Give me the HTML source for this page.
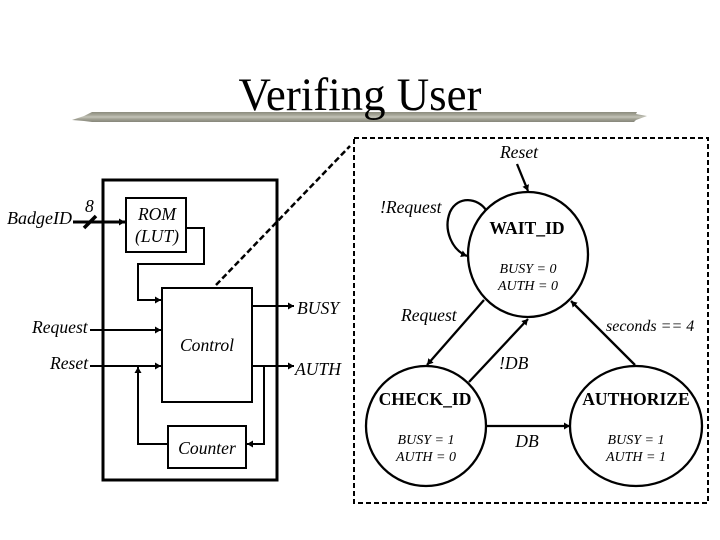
<!DOCTYPE html>
<html><head><meta charset="utf-8"><style>
html,body{margin:0;padding:0;background:#fff;width:720px;height:540px;overflow:hidden}
svg{display:block}
text{font-family:"Liberation Serif",serif;fill:#000}
.i{font-style:italic;font-size:17.6px}
.s{font-style:italic;font-size:14px}
.c{font-style:italic;font-size:16px}
.b{font-weight:bold;font-size:17.6px}
</style></head><body>
<svg width="720" height="540" viewBox="0 0 720 540" xmlns="http://www.w3.org/2000/svg">
<defs>
<marker id="a" markerUnits="userSpaceOnUse" markerWidth="7" markerHeight="8" refX="6" refY="4" orient="auto"><path d="M0 0.5L6 4L0 7.5Z" fill="#000"/></marker>
<linearGradient id="g" x1="0" y1="0" x2="0" y2="1">
<stop offset="0" stop-color="#8b8b7e"/><stop offset=".3" stop-color="#a6a698"/><stop offset=".5" stop-color="#c4c4b8"/><stop offset=".7" stop-color="#a2a294"/><stop offset="1" stop-color="#86867a"/>
</linearGradient>
</defs>
<polygon points="72,120 84,116 92,112 637,112 636,114 647,116 636,120 634,122 92,122 84,121" fill="url(#g)"/>
<text x="360" y="110" text-anchor="middle" font-size="47" textLength="243" lengthAdjust="spacingAndGlyphs">Verifing User</text>

<g fill="none" stroke="#000">
<rect x="103" y="180" width="174" height="300" stroke-width="3"/>
<rect x="126" y="198" width="60" height="54" stroke-width="2"/>
<rect x="162" y="288" width="90" height="114" stroke-width="2"/>
<rect x="168" y="426" width="78" height="42" stroke-width="2"/>
<path d="M73 222H125" stroke-width="3" marker-end="url(#a)"/>
<path d="M84 228L96 216" stroke-width="3.5"/>
<path d="M186 228H204V264H138V300H161" stroke-width="2" marker-end="url(#a)"/>
<path d="M90 330H161" stroke-width="2" marker-end="url(#a)"/>
<path d="M90 366H161" stroke-width="2" marker-end="url(#a)"/>
<path d="M252 306H294" stroke-width="2" marker-end="url(#a)"/>
<path d="M252 366H294" stroke-width="2" marker-end="url(#a)"/>
<path d="M264 366V444H247" stroke-width="2" marker-end="url(#a)"/>
<path d="M168 444H138V367" stroke-width="2" marker-end="url(#a)"/>
<path d="M216 285L350 146" stroke-width="2.5" stroke-dasharray="6 3"/>
<rect x="354" y="138" width="354" height="365" stroke-width="2" stroke-dasharray="5 3"/>
<ellipse cx="528" cy="254.5" rx="60" ry="62.5" stroke-width="2.3"/>
<circle cx="426" cy="426" r="60" stroke-width="2.3"/>
<ellipse cx="636" cy="426" rx="66" ry="60" stroke-width="2.3"/>
<path d="M517 164L528 191" stroke-width="2.3" marker-end="url(#a)"/>
<path d="M486 210C478 198 458 195 450 212C443 230 452 250 467 256" stroke-width="2.3" marker-end="url(#a)"/>
<path d="M484 300L427 365" stroke-width="2.3" marker-end="url(#a)"/>
<path d="M469 382L528 319" stroke-width="2.3" marker-end="url(#a)"/>
<path d="M635 365L571 301" stroke-width="2.3" marker-end="url(#a)"/>
<path d="M486 426H570" stroke-width="2.3" marker-end="url(#a)"/>
</g>

<text class="i" x="7" y="224" textLength="65" lengthAdjust="spacingAndGlyphs">BadgeID</text>
<text class="i" x="85" y="212">8</text>
<text class="i" x="157" y="220" text-anchor="middle">ROM</text>
<text class="i" x="157" y="242" text-anchor="middle">(LUT)</text>
<text class="i" x="32" y="333">Request</text>
<text class="i" x="50" y="369">Reset</text>
<text class="i" x="207" y="351" text-anchor="middle">Control</text>
<text class="i" x="207" y="454" text-anchor="middle">Counter</text>
<text class="i" x="297" y="314">BUSY</text>
<text class="i" x="295" y="375">AUTH</text>
<text class="i" x="519" y="158" text-anchor="middle">Reset</text>
<text class="i" x="380" y="213">!Request</text>
<text class="b" x="527" y="234" text-anchor="middle">WAIT_ID</text>
<text class="s" x="528" y="273" text-anchor="middle">BUSY = 0</text>
<text class="s" x="528" y="290" text-anchor="middle">AUTH = 0</text>
<text class="i" x="401" y="321">Request</text>
<text class="c" x="606" y="331">seconds == 4</text>
<text class="i" x="499" y="369">!DB</text>
<text class="b" x="425" y="405" text-anchor="middle">CHECK_ID</text>
<text class="b" x="636" y="405" text-anchor="middle">AUTHORIZE</text>
<text class="s" x="426" y="444" text-anchor="middle">BUSY = 1</text>
<text class="s" x="426" y="461" text-anchor="middle">AUTH = 0</text>
<text class="i" x="527" y="447" text-anchor="middle">DB</text>
<text class="s" x="636" y="444" text-anchor="middle">BUSY = 1</text>
<text class="s" x="636" y="461" text-anchor="middle">AUTH = 1</text>
</svg>
</body></html>
